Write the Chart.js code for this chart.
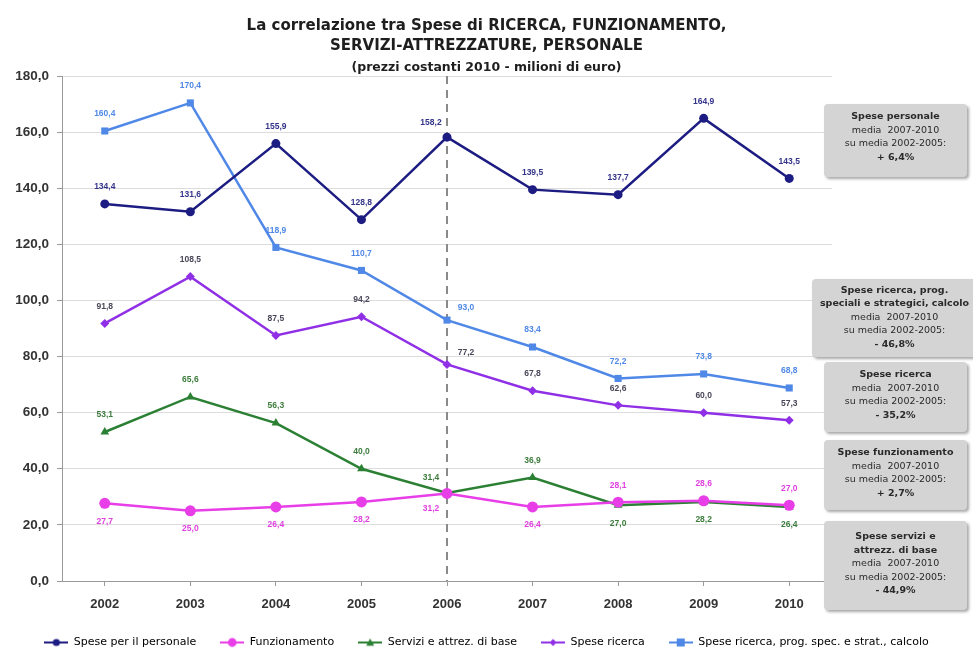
<!DOCTYPE html>
<html>
<head>
<meta charset="utf-8">
<script src="https://cdn.jsdelivr.net/npm/chart.js@4"></script>
<style>
  body { margin: 0; background: #fff; }
  #wrap { position: relative; width: 973px; height: 649px; }
  .note {
    position: absolute;
    background: #d4d4d4;
    border-radius: 4px;
    box-shadow: 2px 2px 3px rgba(0,0,0,0.35);
    font-family: "DejaVu Sans", sans-serif;
    font-size: 9.5px;
    line-height: 13.6px;
    color: #2a2a2a;
    text-align: center;
    box-sizing: border-box;
    padding-top: 5px;
    white-space: nowrap;
  }
  .note b { font-weight: bold; }
</style>
</head>
<body>
<div id="wrap">
  <canvas id="myChart" width="973" height="649"></canvas>
  <div class="note" style="left:824px;top:104px;width:143px;height:73px;"><b>Spese personale</b><br>media&nbsp; 2007-2010<br>su media 2002-2005:<br><b>+ 6,4%</b></div>
  <div class="note" style="left:812px;top:279px;width:165px;height:78px;padding-top:4px;line-height:13.4px;"><b>Spese ricerca, prog.<br>speciali e strategici, calcolo</b><br>media&nbsp; 2007-2010<br>su media 2002-2005:<br><b>- 46,8%</b></div>
  <div class="note" style="left:824px;top:362px;width:143px;height:70px;"><b>Spese ricerca</b><br>media&nbsp; 2007-2010<br>su media 2002-2005:<br><b>- 35,2%</b></div>
  <div class="note" style="left:824px;top:440px;width:143px;height:70px;"><b>Spese funzionamento</b><br>media&nbsp; 2007-2010<br>su media 2002-2005:<br><b>+ 2,7%</b></div>
  <div class="note" style="left:824px;top:521px;width:143px;height:89px;padding-top:8px;"><b>Spese servizi e<br>attrezz. di base</b><br>media&nbsp; 2007-2010<br>su media 2002-2005:<br><b>- 44,9%</b></div>
</div>
<script>
// data
const years = ['2002', '2003', '2004', '2005', '2006', '2007', '2008', '2009', '2010'];
const personale = [134.4, 131.6, 155.9, 128.8, 158.2, 139.5, 137.7, 164.9, 143.5];
const funzionamento = [27.7, 25.0, 26.4, 28.2, 31.2, 26.4, 28.1, 28.6, 27.0];
const servizi = [53.1, 65.6, 56.3, 40.0, 31.4, 36.9, 27.0, 28.2, 26.4];
const ricerca = [91.8, 108.5, 87.5, 94.2, 77.2, 67.8, 62.6, 60.0, 57.3];
const ricercaProg = [160.4, 170.4, 118.9, 110.7, 93.0, 83.4, 72.2, 73.8, 68.8];
const yTicks = [0, 20, 40, 60, 80, 100, 120, 140, 160, 180];
const splitYear = '2006';

const FONT = '"Liberation Sans", Arial, sans-serif';
const WIDE = '"DejaVu Sans", sans-serif';

function fmt(v) {
    return v.toFixed(1).replace('.', ',');
}

// little line + marker picture for the legend
function legendIcon(color, style, r) {
    const c = document.createElement('canvas');
    c.width = 24; c.height = 12;
    const g = c.getContext('2d');
    g.strokeStyle = color; g.fillStyle = color; g.lineWidth = 2;
    g.beginPath(); g.moveTo(0, 6); g.lineTo(24, 6); g.stroke();
    g.beginPath();
    if (style === 'circle') g.arc(12, 6, r, 0, Math.PI * 2);
    else if (style === 'rect') g.rect(12 - r, 6 - r, r * 2, r * 2);
    else if (style === 'rectRot') { g.moveTo(12, 6 - r); g.lineTo(12 + r, 6); g.lineTo(12, 6 + r); g.lineTo(12 - r, 6); }
    else if (style === 'triangle') { g.moveTo(12, 6 - r); g.lineTo(12 + r, 6 + r * 0.8); g.lineTo(12 - r, 6 + r * 0.8); }
    g.closePath(); g.fill();
    return c;
}

// dashed split line at 2006
const splitLine = {
    id: 'splitLine',
    beforeDatasetsDraw(chart) {
        const ctx = chart.ctx;
        const x = chart.scales.x.getPixelForValue(years.indexOf(splitYear));
        ctx.save();
        ctx.strokeStyle = '#8a8a8a';
        ctx.lineWidth = 2;
        ctx.setLineDash([8, 6]);
        ctx.beginPath();
        ctx.moveTo(x, chart.chartArea.top);
        ctx.lineTo(x, chart.chartArea.bottom);
        ctx.stroke();
        ctx.restore();
    }
};

// value labels next to the points
const valueLabels = {
    id: 'valueLabels',
    afterDatasetsDraw(chart) {
        const ctx = chart.ctx;
        ctx.save();
        ctx.font = 'bold 8.5px ' + FONT;
        ctx.textAlign = 'center';
        ctx.textBaseline = 'middle';
        chart.data.datasets.forEach((ds, i) => {
            const meta = chart.getDatasetMeta(i);
            ctx.fillStyle = ds.labelColor;
            meta.data.forEach((pt, j) => {
                const pos = ds.labelPos[j];
                let dx = 0, dy = -17;
                if (pos === 'b') dy = 18;
                if (pos === 'al') { dx = -16; dy = -15; }
                if (pos === 'ar') { dx = 19; dy = -12; }
                if (pos === 'bl') { dx = -16; dy = 15; }
                ctx.fillText(fmt(ds.data[j]), pt.x + dx, pt.y + dy);
            });
        });
        ctx.restore();
    }
};

const ctx = document.getElementById('myChart').getContext('2d');
const chart = new Chart(ctx, {
    type: 'line',
    data: {
        labels: years,
        datasets: [{
            label: 'Spese per il personale',
            data: personale,
            borderColor: '#1c1c82',
            backgroundColor: '#1c1c82',
            pointStyle: 'circle',
            pointRadius: 4.5,
            labelColor: '#34348a',
            labelPos: ['a', 'a', 'a', 'a', 'al', 'a', 'a', 'a', 'a']
        }, {
            label: 'Funzionamento',
            data: funzionamento,
            borderColor: '#e83ee8',
            backgroundColor: '#e83ee8',
            pointStyle: 'circle',
            pointRadius: 5.5,
            labelColor: '#e040e0',
            labelPos: ['b', 'b', 'b', 'b', 'bl', 'b', 'a', 'a', 'a']
        }, {
            label: 'Servizi e attrez. di base',
            data: servizi,
            borderColor: '#2b8034',
            backgroundColor: '#2b8034',
            pointStyle: 'triangle',
            pointRadius: 5,
            labelColor: '#3c7c3c',
            labelPos: ['a', 'a', 'a', 'a', 'al', 'a', 'b', 'b', 'b']
        }, {
            label: 'Spese ricerca',
            data: ricerca,
            borderColor: '#9030e6',
            backgroundColor: '#9030e6',
            pointStyle: 'rectRot',
            pointRadius: 4.5,
            labelColor: '#4a4658',
            labelPos: ['a', 'a', 'a', 'a', 'ar', 'a', 'a', 'a', 'a']
        }, {
            label: 'Spese ricerca, prog. spec. e strat., calcolo',
            data: ricercaProg,
            borderColor: '#4f88e6',
            backgroundColor: '#4f88e6',
            pointStyle: 'rect',
            pointRadius: 5,
            labelColor: '#4f88e6',
            labelPos: ['a', 'a', 'a', 'a', 'ar', 'a', 'a', 'a', 'a']
        }]
    },
    options: {
        responsive: false,
        animation: false,
        elements: {
            line: { borderWidth: 2.5, tension: 0 },
            point: { borderWidth: 0 }
        },
        layout: {
            padding: { left: 0, right: 0, top: 0, bottom: -9 }
        },
        plugins: {
            tooltip: { enabled: false },
            title: {
                display: true,
                text: ['La correlazione tra Spese di RICERCA, FUNZIONAMENTO,', 'SERVIZI-ATTREZZATURE, PERSONALE'],
                color: '#1e1e1e',
                font: { family: WIDE, size: 15, weight: 'bold', lineHeight: 1.35 },
                padding: { top: 16, bottom: 0 }
            },
            subtitle: {
                display: true,
                text: '(prezzi costanti 2010 - milioni di euro)',
                color: '#1e1e1e',
                font: { family: WIDE, size: 12.5, weight: 'bold', lineHeight: 1.2 },
                padding: { top: 4, bottom: 0.5 }
            },
            legend: {
                position: 'bottom',
                labels: {
                    color: '#333',
                    font: { family: WIDE, size: 11 },
                    usePointStyle: true,
                    pointStyleWidth: 24,
                    padding: 24,
                    generateLabels(chart) {
                        return chart.data.datasets.map((ds, i) => ({
                            text: ds.label,
                            fillStyle: ds.backgroundColor,
                            strokeStyle: ds.borderColor,
                            pointStyle: legendIcon(ds.borderColor, ds.pointStyle, ds.pointRadius * 0.8),
                            lineWidth: 0,
                            hidden: false,
                            datasetIndex: i
                        }));
                    }
                }
            }
        },
        scales: {
            x: {
                offset: true,
                grid: { display: true, drawOnChartArea: false, color: '#9a9a9a', tickLength: 5 },
                border: { color: '#9a9a9a', width: 1 },
                ticks: {
                    color: '#333',
                    font: { family: FONT, size: 13, weight: 'bold' },
                    padding: 11
                },
                afterFit(scale) { scale.height = 32; }
            },
            y: {
                min: 0,
                max: 180,
                afterBuildTicks(scale) { scale.ticks = yTicks.map(v => ({ value: v })); },
                grid: { color: '#dcdcdc', tickLength: 5, tickColor: '#9a9a9a' },
                border: { color: '#9a9a9a', width: 1 },
                ticks: {
                    color: '#333',
                    font: { family: FONT, size: 13.5, weight: 'bold' },
                    padding: 8,
                    callback: value => fmt(value)
                },
                afterFit(scale) { scale.width = 62; }
            },
            // empty right-hand space where the note boxes sit
            side: {
                position: 'right',
                display: true,
                grid: { display: false },
                border: { display: false },
                ticks: { display: false },
                afterFit(scale) { scale.width = 141; }
            }
        }
    },
    plugins: [splitLine, valueLabels]
});
</script>
</body>
</html>
